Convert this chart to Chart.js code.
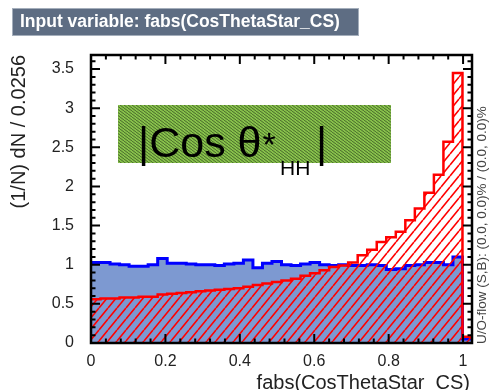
<!DOCTYPE html>
<html>
<head>
<meta charset="utf-8">
<script src="https://cdn.jsdelivr.net/npm/chart.js@4.4.0/dist/chart.umd.min.js"></script>
<style>
  html, body { margin: 0; padding: 0; background: #fff; }
  #wrap { width: 490px; height: 390px; }
</style>
</head>
<body>
<div id="wrap"><canvas id="myChart" width="490" height="390"></canvas></div>
<script>
// histogram binning and axis ranges
const binWidth = 0.0256;
const xRange = [0, 1.024];
const yRange = [0, 3.68];
const xTickValues = [0, 0.2, 0.4, 0.6, 0.8, 1];
const yTickValues = [0, 0.5, 1, 1.5, 2, 2.5, 3, 3.5];

// signal (blue) and background (red) bin contents, normalised
const signalValues = [
  1.03, 1.03, 1.01, 1.00, 0.98, 0.98, 1.00, 1.08, 1.02, 1.02,
  1.01, 1.00, 1.00, 0.99, 1.01, 1.02, 1.06, 0.96, 1.02, 1.04,
  1.00, 0.99, 1.01, 1.03, 1.00, 0.99, 1.00, 0.99, 0.99, 1.00,
  0.99, 0.94, 0.95, 0.99, 1.00, 1.03, 1.03, 1.00, 1.10, 0.05
];
const backgroundValues = [
  0.56, 0.57, 0.57, 0.58, 0.58, 0.59, 0.59, 0.62, 0.63, 0.64,
  0.65, 0.66, 0.67, 0.68, 0.69, 0.70, 0.72, 0.74, 0.76, 0.78,
  0.80, 0.82, 0.86, 0.89, 0.93, 0.97, 0.99, 1.03, 1.12, 1.19,
  1.29, 1.35, 1.42, 1.57, 1.72, 1.92, 2.15, 2.57, 3.45, 0.08
];

const titleText = 'Input variable: fabs(CosThetaStar_CS)';
const xTitle = 'fabs(CosThetaStar_CS)';
const yTitle = '(1/N) dN / 0.0256';
const flowText = 'U/O-flow (S,B): (0.0, 0.0)% / (0.0, 0.0)%';

const canvas = document.getElementById('myChart');
const mainCtx = canvas.getContext('2d');

function histPoints(values) {
  const pts = values.map(function (v, i) {
    return { x: i * binWidth, y: v };
  });
  pts.push({ x: values.length * binWidth, y: values[values.length - 1] });
  return pts;
}

function makeHatch(color, w, h, lw, bg, down) {
  const c = document.createElement('canvas');
  c.width = w; c.height = h;
  const g = c.getContext('2d');
  if (bg) { g.fillStyle = bg; g.fillRect(0, 0, w, h); }
  g.strokeStyle = color;
  g.lineWidth = lw;
  g.beginPath();
  for (let k = -1; k <= 1; k++) {
    if (down) { g.moveTo(k * w, 0); g.lineTo((k + 1) * w, h); }
    else { g.moveTo(k * w, h); g.lineTo((k + 1) * w, 0); }
  }
  g.stroke();
  return mainCtx.createPattern(c, 'repeat');
}

const redHatch = makeHatch('#ff0000', 9, 11, 1.6, null, false);
const greenTexture = makeHatch('#4a6a2c', 4, 3, 1, '#86c04a', true);

// frame and ROOT style inner ticks on all four sides
const frameTicks = {
  id: 'frameTicks',
  afterDatasetsDraw(chart) {
    const ctx = chart.ctx;
    const a = chart.chartArea;
    const x = chart.scales.x, y = chart.scales.y;
    ctx.save();
    ctx.strokeStyle = '#000';
    ctx.lineWidth = 2;
    ctx.beginPath();
    for (let k = 0; k * 0.04 <= xRange[1] + 1e-9; k++) {
      const px = x.getPixelForValue(k * 0.04);
      const len = k % 5 === 0 ? 9 : 4.5;
      ctx.moveTo(px, a.bottom); ctx.lineTo(px, a.bottom - len);
      ctx.moveTo(px, a.top); ctx.lineTo(px, a.top + len);
    }
    for (let k = 0; k * 0.1 <= yRange[1] + 1e-9; k++) {
      const py = y.getPixelForValue(k * 0.1);
      const len = k % 5 === 0 ? 9 : 4.5;
      ctx.moveTo(a.left, py); ctx.lineTo(a.left + len, py);
      ctx.moveTo(a.right, py); ctx.lineTo(a.right - len, py);
    }
    ctx.stroke();
    ctx.lineWidth = 2.5;
    ctx.strokeRect(a.left, a.top, a.right - a.left, a.bottom - a.top);
    ctx.restore();
  }
};

// title box, axis titles, overflow note and the variable label
const decorations = {
  id: 'decorations',
  afterDraw(chart) {
    const ctx = chart.ctx;
    ctx.save();

    ctx.fillStyle = '#5e6d83';
    ctx.fillRect(12, 8, 347, 28);
    ctx.strokeStyle = '#a4aebb';
    ctx.lineWidth = 1;
    ctx.strokeRect(12.5, 8.5, 346, 27);
    ctx.fillStyle = '#ffffff';
    ctx.font = 'bold 17.5px "Liberation Sans", Arial, sans-serif';
    ctx.textBaseline = 'middle';
    ctx.textAlign = 'left';
    ctx.fillText(titleText, 20, 22);

    ctx.fillStyle = '#222';
    ctx.font = '20px "Liberation Sans", Arial, sans-serif';
    ctx.textAlign = 'right';
    ctx.textBaseline = 'alphabetic';
    ctx.fillText(xTitle, 470, 389);

    ctx.save();
    ctx.translate(25, 55);
    ctx.rotate(-Math.PI / 2);
    ctx.textAlign = 'right';
    ctx.fillText(yTitle, 0, 0);
    ctx.restore();

    ctx.save();
    ctx.font = '13.5px "Liberation Sans", Arial, sans-serif';
    ctx.fillStyle = '#444';
    ctx.translate(486, 344);
    ctx.rotate(-Math.PI / 2);
    ctx.textAlign = 'left';
    ctx.fillText(flowText, 0, 0);
    ctx.restore();

    ctx.fillStyle = greenTexture;
    ctx.fillRect(118, 105, 273, 58);
    ctx.fillStyle = '#000';
    ctx.textAlign = 'left';
    ctx.font = '43px "Liberation Sans", Arial, sans-serif';
    ctx.fillText('|Cos θ', 138, 157);
    const w0 = ctx.measureText('|Cos θ').width;
    ctx.font = '34px "Liberation Sans", Arial, sans-serif';
    ctx.fillText('*', 138 + w0 + 1, 156);
    ctx.font = '21px "Liberation Sans", Arial, sans-serif';
    ctx.fillText('HH', 280, 175);
    ctx.font = '43px "Liberation Sans", Arial, sans-serif';
    ctx.fillText('|', 316, 157);

    ctx.restore();
  }
};

const tickFont = { family: '"Liberation Sans", Arial, sans-serif', size: 16 };

const config = {
  type: 'line',
  data: {
    datasets: [{
      label: 'Background',
      data: histPoints(backgroundValues),
      stepped: true,
      borderColor: '#ff0000',
      borderWidth: 2.5,
      backgroundColor: redHatch,
      fill: 'origin',
      pointRadius: 0
    }, {
      label: 'Signal',
      data: histPoints(signalValues),
      stepped: true,
      borderColor: '#0000ff',
      borderWidth: 3,
      backgroundColor: '#7d99d1',
      fill: 'origin',
      pointRadius: 0
    }]
  },
  plugins: [frameTicks, decorations],
  options: {
    responsive: false,
    animation: false,
    layout: { padding: { top: 55, right: 18, left: 0, bottom: 0 } },
    plugins: {
      legend: { display: false },
      tooltip: { enabled: false }
    },
    scales: {
      x: {
        type: 'linear',
        min: xRange[0],
        max: xRange[1],
        grid: { display: false },
        border: { display: false },
        afterBuildTicks: function (s) {
          s.ticks = xTickValues.map(function (v) { return { value: v }; });
        },
        afterFit: function (s) { s.height = 47; },
        ticks: {
          font: tickFont, color: '#222', padding: 1,
          autoSkip: false, maxRotation: 0,
          callback: function (v) { return String(v); }
        }
      },
      y: {
        min: yRange[0],
        max: yRange[1],
        grid: { display: false },
        border: { display: false },
        afterBuildTicks: function (s) {
          s.ticks = yTickValues.map(function (v) { return { value: v }; });
        },
        afterFit: function (s) { s.width = 91; },
        ticks: {
          font: tickFont, color: '#222', padding: 9,
          autoSkip: false,
          callback: function (v) { return String(v); }
        }
      }
    }
  }
};

const myChart = new Chart(canvas, config);
</script>
</body>
</html>
